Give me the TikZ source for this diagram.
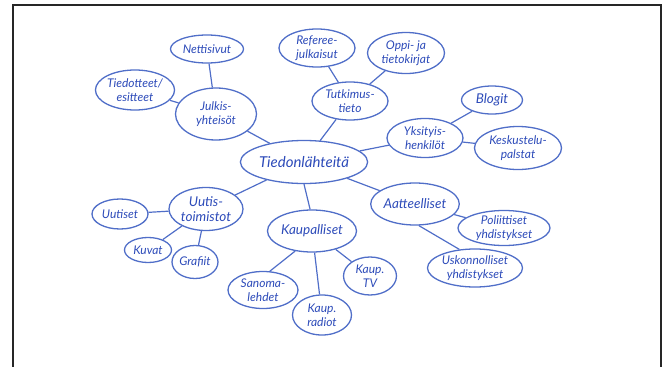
\documentclass[tikz,border=0pt]{standalone}
\usepackage{fontspec}
\setmainfont{Lato}
\usetikzlibrary{shapes.geometric}
\definecolor{inkblue}{RGB}{45,75,185}
\definecolor{ringblue}{RGB}{80,110,200}
\tikzset{
  bub/.style={ellipse, draw=ringblue, line width=1.3pt, inner sep=0pt, align=center,
    text=inkblue, font=\itshape\fontsize{12}{13.5}\selectfont},
  midbub/.style={bub, font=\itshape\fontsize{13.5}{14.5}\selectfont},
  bigbub/.style={bub, font=\itshape\fontsize{15}{16}\selectfont},
  link/.style={draw=ringblue, line width=1.2pt},
  frame/.style={draw=black!85, line width=2.6pt}
}
\begin{document}
\begin{tikzpicture}[x=1pt,y=-1pt]
\useasboundingbox (0,0) rectangle (665,367);
\draw[frame] (13,368) -- (13,5) -- (661,5) -- (661,368);

\node[bigbub, minimum width=115pt, minimum height=43pt] (main) at (304,162) {Tiedonlähteitä};

\node[bub, minimum width=81pt, minimum height=52pt] (julk) at (216,114) {Julkis-\\yhteisöt};
\node[bub, minimum width=73pt, minimum height=28pt] (netti) at (207,49) {Nettisivut};
\node[bub, minimum width=78pt, minimum height=40pt] (tied) at (135,90) {Tiedotteet/\\esitteet};

\node[bub, minimum width=76pt, minimum height=38pt] (tutk) at (350,101) {Tutkimus-\\tieto};
\node[bub, minimum width=76pt, minimum height=38pt] (refe) at (317,48) {Referee-\\julkaisut};
\node[bub, minimum width=77pt, minimum height=41pt] (oppi) at (406,53) {Oppi- ja\\tietokirjat};

\node[bub, minimum width=76pt, minimum height=39pt] (yks) at (425,138) {Yksityis-\\henkilöt};
\node[midbub, minimum width=61pt, minimum height=28pt] (blog) at (492,100) {Blogit};
\node[bub, minimum width=87pt, minimum height=43pt] (kesk) at (518,148) {Keskustelu-\\palstat};

\node[midbub, minimum width=84pt, minimum height=42pt] (aatt) at (415,204) {Aatteelliset};
\node[bub, minimum width=92pt, minimum height=35pt] (poli) at (504,228) {Poliittiset\\yhdistykset};
\node[bub, minimum width=95pt, minimum height=38pt] (usko) at (475,268) {Uskonnolliset\\yhdistykset};

\node[midbub, minimum width=74pt, minimum height=43pt] (uutt) at (206,209) {Uutis-\\toimistot};
\node[bub, minimum width=56pt, minimum height=30pt] (uuti) at (120,214) {Uutiset};
\node[bub, minimum width=47pt, minimum height=25pt] (kuva) at (148,250) {Kuvat};
\node[bub, minimum width=46pt, minimum height=33pt] (graf) at (195,262) {Grafiit};

\node[midbub, minimum width=89pt, minimum height=42pt] (kaup) at (312,231) {Kaupalliset};
\node[bub, minimum width=70pt, minimum height=37pt] (sano) at (263,290) {Sanoma-\\lehdet};
\node[bub, minimum width=59pt, minimum height=40pt] (radi) at (322,315) {Kaup.\\radiot};
\node[bub, minimum width=53pt, minimum height=38pt] (ktv) at (370,276) {Kaup.\\TV};

\path[link] (main) -- (julk);
\path[link] (julk) -- (netti);
\path[link] (julk) -- (tied);
\path[link] (main) -- (tutk);
\path[link] (tutk) -- (refe);
\path[link] (tutk) -- (oppi);
\path[link] (main) -- (yks);
\path[link] (yks) -- (blog);
\path[link] (yks) -- (kesk);
\path[link] (main) -- (aatt);
\path[link] (aatt) -- (poli);
\path[link] (aatt.-80) -- (usko.130);
\path[link] (main) -- (uutt);
\path[link] (uutt) -- (uuti);
\path[link] (uutt) -- (kuva);
\path[link] (uutt) -- (graf);
\path[link] (main.-90) -- (kaup.95);
\path[link] (kaup.-130) -- (sano.70);
\path[link] (kaup) -- (radi);
\path[link] (kaup) -- (ktv);
\end{tikzpicture}
\end{document}
